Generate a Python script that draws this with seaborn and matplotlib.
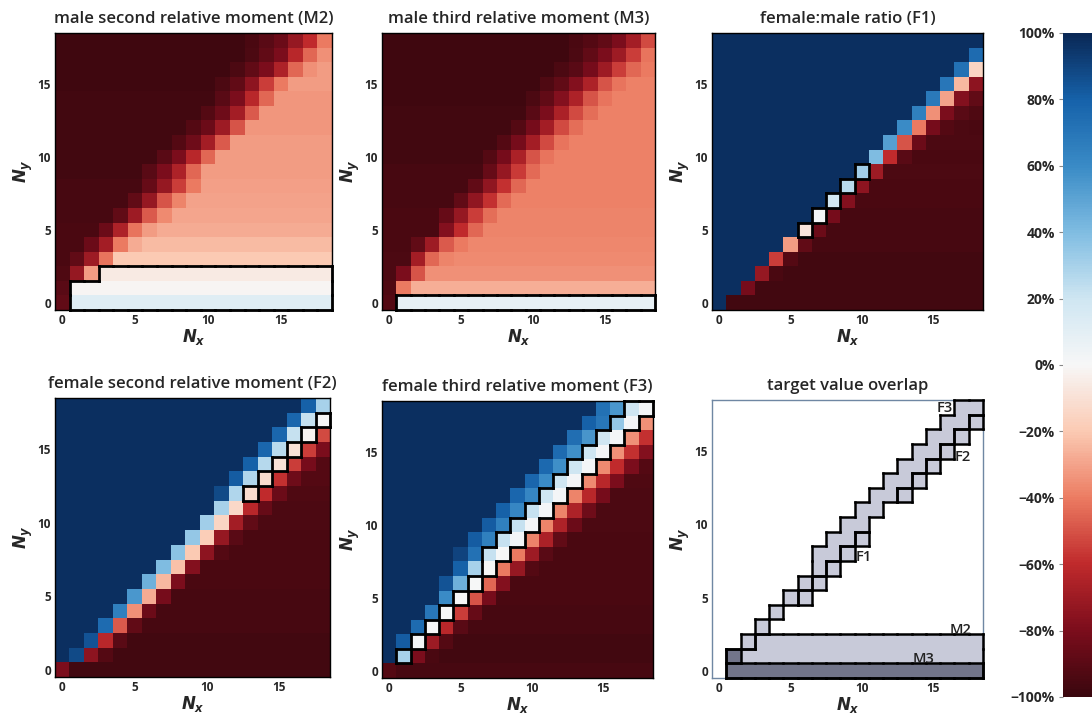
import numpy as np
import matplotlib
matplotlib.use("Agg")
import matplotlib.pyplot as plt
import seaborn as sns
from matplotlib.colors import LinearSegmentedColormap, ListedColormap
from matplotlib.collections import LineCollection

# ---------------- data (percent deviation), rows = Ny 0..18, cols = Nx 0..18 ----------------
TICKS = [0, 5, 10, 15]
TICK_LABELS = ["0", "5", "10", "15"]
CBAR_TICKS = [-100, -80, -60, -40, -20, 0, 20, 40, 60, 80, 100]
CBAR_LABELS = ["\u2212100%", "\u221280%", "\u221260%", "\u221240%", "\u221220%", "0%",
               "20%", "40%", "60%", "80%", "100%"]

M2 = [
    [-88, 12, 12, 12, 12, 12, 12, 12, 12, 12, 12, 12, 12, 12, 12, 12, 12, 12, 12],
    [-90, -1, -1, -1, -1, -1, -1, -1, -1, -1, -1, -1, -1, -1, -1, -1, -1, -1, -1],
    [-93, -72, -32, -6, -6, -6, -6, -6, -6, -6, -6, -6, -6, -6, -6, -6, -6, -6, -6],
    [-95, -88, -70, -42, -20, -20, -20, -20, -20, -20, -20, -20, -20, -20, -20, -20, -20, -20, -20],
    [-95, -95, -85, -68, -40, -28, -24, -24, -24, -24, -24, -24, -24, -24, -24, -24, -24, -24, -24],
    [-95, -95, -95, -85, -65, -42, -32, -28, -28, -28, -28, -28, -28, -28, -28, -28, -28, -28, -28],
    [-96, -96, -96, -96, -88, -70, -48, -36, -29, -29, -29, -29, -29, -29, -29, -29, -29, -29, -29],
    [-96, -96, -96, -96, -96, -88, -72, -50, -38, -30, -30, -30, -30, -30, -30, -30, -30, -30, -30],
    [-96, -96, -96, -96, -96, -96, -86, -72, -55, -40, -31, -31, -31, -31, -31, -31, -31, -31, -31],
    [-97, -97, -97, -97, -97, -97, -90, -80, -65, -45, -32, -32, -32, -32, -32, -32, -32, -32, -32],
    [-97, -97, -97, -97, -97, -97, -97, -90, -80, -62, -45, -32, -32, -32, -32, -32, -32, -32, -32],
    [-97, -97, -97, -97, -97, -97, -97, -97, -92, -84, -68, -48, -32, -32, -32, -32, -32, -32, -32],
    [-97, -97, -97, -97, -97, -97, -97, -97, -97, -92, -85, -70, -50, -33, -33, -33, -33, -33, -33],
    [-97, -97, -97, -97, -97, -97, -97, -97, -97, -97, -92, -84, -68, -48, -33, -33, -33, -33, -33],
    [-97, -97, -97, -97, -97, -97, -97, -97, -97, -97, -97, -90, -80, -62, -45, -33, -33, -33, -33],
    [-98, -98, -98, -98, -98, -98, -98, -98, -98, -98, -98, -94, -88, -75, -55, -40, -32, -32, -32],
    [-98, -98, -98, -98, -98, -98, -98, -98, -98, -98, -98, -98, -94, -88, -80, -65, -45, -35, -32],
    [-98, -98, -98, -98, -98, -98, -98, -98, -98, -98, -98, -98, -98, -94, -88, -80, -62, -45, -35],
    [-98, -98, -98, -98, -98, -98, -98, -98, -98, -98, -98, -98, -98, -95, -90, -85, -72, -60, -40],
]

M3 = [
    [-92, 8, 8, 8, 8, 8, 8, 8, 8, 8, 8, 8, 8, 8, 8, 8, 8, 8, 8],
    [-93, -40, -27, -27, -27, -27, -27, -27, -27, -27, -27, -27, -27, -27, -27, -27, -27, -27, -27],
    [-94, -80, -50, -35, -35, -35, -35, -35, -35, -35, -35, -35, -35, -35, -35, -35, -35, -35, -35],
    [-94, -94, -68, -45, -38, -36, -36, -36, -36, -36, -36, -36, -36, -36, -36, -36, -36, -36, -36],
    [-95, -95, -88, -70, -48, -40, -37, -37, -37, -37, -37, -37, -37, -37, -37, -37, -37, -37, -37],
    [-95, -95, -95, -95, -78, -60, -45, -38, -38, -38, -38, -38, -38, -38, -38, -38, -38, -38, -38],
    [-95, -95, -95, -95, -86, -72, -55, -43, -38, -38, -38, -38, -38, -38, -38, -38, -38, -38, -38],
    [-96, -96, -96, -96, -96, -88, -74, -58, -44, -39, -39, -39, -39, -39, -39, -39, -39, -39, -39],
    [-96, -96, -96, -96, -96, -96, -88, -74, -58, -45, -39, -39, -39, -39, -39, -39, -39, -39, -39],
    [-96, -96, -96, -96, -96, -96, -96, -86, -72, -56, -44, -39, -39, -39, -39, -39, -39, -39, -39],
    [-97, -97, -97, -97, -97, -97, -97, -92, -82, -66, -50, -42, -39, -39, -39, -39, -39, -39, -39],
    [-97, -97, -97, -97, -97, -97, -97, -97, -92, -82, -68, -52, -42, -39, -39, -39, -39, -39, -39],
    [-97, -97, -97, -97, -97, -97, -97, -97, -97, -92, -82, -68, -52, -43, -39, -39, -39, -39, -39],
    [-97, -97, -97, -97, -97, -97, -97, -97, -97, -97, -90, -80, -66, -52, -43, -39, -39, -39, -39],
    [-98, -98, -98, -98, -98, -98, -98, -98, -98, -98, -94, -88, -78, -65, -50, -42, -39, -39, -39],
    [-98, -98, -98, -98, -98, -98, -98, -98, -98, -98, -98, -93, -88, -78, -65, -50, -42, -39, -39],
    [-98, -98, -98, -98, -98, -98, -98, -98, -98, -98, -98, -98, -94, -90, -82, -70, -55, -45, -40],
    [-98, -98, -98, -98, -98, -98, -98, -98, -98, -98, -98, -98, -98, -94, -88, -80, -70, -55, -42],
    [-98, -98, -98, -98, -98, -98, -98, -98, -98, -98, -98, -98, -98, -95, -92, -88, -80, -68, -52],
]

F1 = [
    [97, -97, -97, -97, -97, -97, -97, -97, -97, -97, -97, -97, -97, -97, -97, -97, -97, -97, -97],
    [97, 97, -82, -97, -97, -97, -97, -97, -97, -97, -97, -97, -97, -97, -97, -97, -97, -97, -97],
    [97, 97, 97, -72, -95, -97, -97, -97, -97, -97, -97, -97, -97, -97, -97, -97, -97, -97, -97],
    [97, 97, 97, 97, -55, -92, -97, -97, -97, -97, -97, -97, -97, -97, -97, -97, -97, -97, -97],
    [97, 97, 97, 97, 97, -32, -88, -96, -96, -96, -96, -96, -96, -96, -96, -96, -96, -96, -96],
    [97, 97, 97, 97, 97, 97, -8, -85, -96, -96, -96, -96, -96, -96, -96, -96, -96, -96, -96],
    [97, 97, 97, 97, 97, 97, 97, 2, -82, -96, -96, -96, -96, -96, -96, -96, -96, -96, -96],
    [97, 97, 97, 97, 97, 97, 97, 97, 18, -78, -95, -95, -95, -95, -95, -95, -95, -95, -95],
    [97, 97, 97, 97, 97, 97, 97, 97, 97, 25, -75, -95, -95, -95, -95, -95, -95, -95, -95],
    [97, 97, 97, 97, 97, 97, 97, 97, 97, 97, 32, -70, -94, -94, -94, -94, -94, -94, -94],
    [97, 97, 97, 97, 97, 97, 97, 97, 97, 97, 97, 40, -60, -90, -95, -95, -95, -95, -95],
    [97, 97, 97, 97, 97, 97, 97, 97, 97, 97, 97, 97, 52, -50, -85, -94, -94, -94, -94],
    [97, 97, 97, 97, 97, 97, 97, 97, 97, 97, 97, 97, 97, 60, -40, -82, -92, -94, -95],
    [97, 97, 97, 97, 97, 97, 97, 97, 97, 97, 97, 97, 97, 97, 65, -35, -80, -90, -93],
    [97, 97, 97, 97, 97, 97, 97, 97, 97, 97, 97, 97, 97, 97, 97, 68, -30, -78, -88],
    [97, 97, 97, 97, 97, 97, 97, 97, 97, 97, 97, 97, 97, 97, 97, 97, 70, -25, -75],
    [97, 97, 97, 97, 97, 97, 97, 97, 97, 97, 97, 97, 97, 97, 97, 97, 97, 72, -15],
    [97, 97, 97, 97, 97, 97, 97, 97, 97, 97, 97, 97, 97, 97, 97, 97, 97, 97, 75],
    [97, 97, 97, 97, 97, 97, 97, 97, 97, 97, 97, 97, 97, 97, 97, 97, 97, 97, 97],
]

F2 = [
    [-80, -97, -97, -97, -97, -97, -97, -97, -97, -97, -97, -97, -97, -97, -97, -97, -97, -97, -97],
    [97, 88, -75, -92, -97, -97, -97, -97, -97, -97, -97, -97, -97, -97, -97, -97, -97, -97, -97],
    [97, 97, 85, -62, -90, -97, -97, -97, -97, -97, -97, -97, -97, -97, -97, -97, -97, -97, -97],
    [97, 97, 97, 75, -48, -88, -96, -96, -96, -96, -96, -96, -96, -96, -96, -96, -96, -96, -96],
    [97, 97, 97, 97, 65, -35, -85, -96, -96, -96, -96, -96, -96, -96, -96, -96, -96, -96, -96],
    [97, 97, 97, 97, 97, 55, -28, -82, -96, -96, -96, -96, -96, -96, -96, -96, -96, -96, -96],
    [97, 97, 97, 97, 97, 97, 45, -25, -80, -95, -95, -95, -95, -95, -95, -95, -95, -95, -95],
    [97, 97, 97, 97, 97, 97, 97, 40, -22, -78, -95, -95, -95, -95, -95, -95, -95, -95, -95],
    [97, 97, 97, 97, 97, 97, 97, 97, 37, -20, -75, -92, -95, -95, -95, -95, -95, -95, -95],
    [97, 97, 97, 97, 97, 97, 97, 97, 97, 35, -18, -72, -90, -95, -95, -95, -95, -95, -95],
    [97, 97, 97, 97, 97, 97, 97, 97, 97, 97, 32, -15, -68, -88, -94, -94, -94, -94, -94],
    [97, 97, 97, 97, 97, 97, 97, 97, 97, 97, 97, 30, -14, -62, -86, -94, -94, -94, -94],
    [97, 97, 97, 97, 97, 97, 97, 97, 97, 97, 97, 88, 28, -12, -60, -85, -93, -93, -93],
    [97, 97, 97, 97, 97, 97, 97, 97, 97, 97, 97, 97, 82, 28, -12, -58, -84, -92, -92],
    [97, 97, 97, 97, 97, 97, 97, 97, 97, 97, 97, 97, 97, 80, 26, -10, -55, -82, -92],
    [97, 97, 97, 97, 97, 97, 97, 97, 97, 97, 97, 97, 97, 97, 78, 25, -10, -55, -80],
    [97, 97, 97, 97, 97, 97, 97, 97, 97, 97, 97, 97, 97, 97, 97, 78, 22, -2, -52],
    [97, 97, 97, 97, 97, 97, 97, 97, 97, 97, 97, 97, 97, 97, 97, 97, 78, 22, 0],
    [97, 97, 97, 97, 97, 97, 97, 97, 97, 97, 97, 97, 97, 97, 97, 97, 97, 80, 30],
]

F3 = [
    [-92, -96, -96, -96, -96, -96, -96, -96, -96, -96, -96, -96, -96, -96, -96, -96, -96, -96, -96],
    [97, 30, -80, -95, -97, -97, -97, -97, -97, -97, -97, -97, -97, -97, -97, -97, -97, -97, -97],
    [97, 82, 2, -70, -92, -97, -97, -97, -97, -97, -97, -97, -97, -97, -97, -97, -97, -97, -97],
    [97, 97, 75, 0, -62, -90, -96, -96, -96, -96, -96, -96, -96, -96, -96, -96, -96, -96, -96],
    [97, 97, 97, 70, 0, -55, -86, -96, -96, -96, -96, -96, -96, -96, -96, -96, -96, -96, -96],
    [97, 97, 97, 97, 60, 0, -50, -82, -95, -95, -95, -95, -95, -95, -95, -95, -95, -95, -95],
    [97, 97, 97, 97, 85, 45, 0, -45, -78, -95, -95, -95, -95, -95, -95, -95, -95, -95, -95],
    [97, 97, 97, 97, 97, 80, 30, 0, -40, -72, -92, -95, -95, -95, -95, -95, -95, -95, -95],
    [97, 97, 97, 97, 97, 90, 72, 22, 0, -40, -70, -90, -95, -95, -95, -95, -95, -95, -95],
    [97, 97, 97, 97, 97, 97, 82, 65, 22, 2, -38, -66, -88, -95, -95, -95, -95, -95, -95],
    [97, 97, 97, 97, 97, 97, 97, 82, 65, 22, 2, -38, -65, -85, -94, -94, -94, -94, -94],
    [97, 97, 97, 97, 97, 97, 97, 97, 80, 62, 22, 2, -38, -65, -84, -94, -94, -94, -94],
    [97, 97, 97, 97, 97, 97, 97, 97, 97, 78, 62, 20, 2, -38, -62, -82, -94, -94, -94],
    [97, 97, 97, 97, 97, 97, 97, 97, 97, 97, 78, 60, 20, 2, -36, -62, -80, -93, -93],
    [97, 97, 97, 97, 97, 97, 97, 97, 97, 97, 97, 76, 58, 20, 2, -36, -60, -80, -92],
    [97, 97, 97, 97, 97, 97, 97, 97, 97, 97, 97, 97, 75, 58, 20, 2, -35, -58, -78],
    [97, 97, 97, 97, 97, 97, 97, 97, 97, 97, 97, 97, 97, 74, 56, 20, 2, -35, -58],
    [97, 97, 97, 97, 97, 97, 97, 97, 97, 97, 97, 97, 97, 97, 80, 70, 35, 2, -35],
    [97, 97, 97, 97, 97, 97, 97, 97, 97, 97, 97, 97, 97, 97, 97, 72, 55, 20, 2],
]

# target regions: row (Ny) -> (first Nx, last Nx)
M2_TARGET = {0: (1, 18), 1: (1, 18), 2: (3, 18)}
M3_TARGET = {0: (1, 18)}
F1_TARGET = {5: (6, 6), 6: (7, 7), 7: (8, 8), 8: (9, 9), 9: (10, 10)}
F2_TARGET = {12: (13, 13), 13: (14, 14), 14: (15, 15), 15: (16, 16), 16: (17, 17), 17: (18, 18)}
F3_TARGET = {1: (1, 1), 2: (2, 2), 3: (3, 3), 4: (4, 4), 5: (5, 5), 6: (6, 6), 7: (7, 7),
             8: (7, 8), 9: (8, 9), 10: (9, 10), 11: (10, 11), 12: (11, 12), 13: (12, 13),
             14: (13, 14), 15: (14, 15), 16: (15, 16), 17: (16, 17), 18: (17, 18)}

# ---------------- style ----------------
W, H = 1092, 715
N = 19
sns.set_theme(style="white")
plt.rcParams["font.family"] = ["Open Sans", "DejaVu Sans"]
plt.rcParams["font.weight"] = "semibold"
plt.rcParams["mathtext.fontset"] = "custom"
plt.rcParams["mathtext.it"] = "DejaVu Sans:italic:bold"
plt.rcParams["mathtext.rm"] = "DejaVu Sans:bold"

cmap = LinearSegmentedColormap.from_list("rb", [
    (0.00, "#3a070e"), (0.10, "#7c0d1c"), (0.20, "#c02a2c"), (0.30, "#ec7c62"),
    (0.40, "#fbcab3"), (0.50, "#f7f7f7"), (0.60, "#cfe6f2"), (0.70, "#80bde2"),
    (0.80, "#3a8bc6"), (0.90, "#1662aa"), (1.00, "#0a2856")])

fig = plt.figure(figsize=(W / 100, H / 100), dpi=100)


def rect(l, t, r, b):
    return [l / W, 1 - b / H, (r - l) / W, (b - t) / H]


def to_mask(rows):
    m = np.zeros((N, N), dtype=bool)
    for j, (a, b) in rows.items():
        m[j, a:b + 1] = True
    return m


def outline(ax, m, lw=2.0, color="black"):
    segs = []
    for j in range(N):
        for i in range(N):
            if not m[j, i]:
                continue
            if j == 0 or not m[j - 1, i]:
                segs.append([(i, j), (i + 1, j)])
            if j == N - 1 or not m[j + 1, i]:
                segs.append([(i, j + 1), (i + 1, j + 1)])
            if i == 0 or not m[j, i - 1]:
                segs.append([(i, j), (i, j + 1)])
            if i == N - 1 or not m[j, i + 1]:
                segs.append([(i + 1, j), (i + 1, j + 1)])
    lc = LineCollection(segs, colors=color, linewidths=lw, capstyle="projecting",
                        clip_on=False, zorder=5)
    ax.add_collection(lc)


def style_axes(ax, title, frame="black"):
    ax.invert_yaxis()
    ax.set_xticks([t + 0.5 for t in TICKS])
    ax.set_xticklabels(TICK_LABELS, rotation=0)
    ax.set_yticks([t + 0.5 for t in TICKS])
    ax.set_yticklabels(TICK_LABELS, rotation=0)
    ax.tick_params(axis="both", length=0, pad=3, labelsize=8.5)
    for lbl in ax.get_xticklabels() + ax.get_yticklabels():
        lbl.set_fontweight("bold")
    ax.set_xlabel(r"$N_x$", fontsize=12, labelpad=0)
    ax.set_ylabel(r"$N_y$", fontsize=12, labelpad=2)
    ax.set_title(title, fontsize=12, fontweight="semibold", pad=7)
    for s in ax.spines.values():
        s.set_visible(True)
        s.set_linewidth(1.0)
        s.set_color(frame)


def panel(box, data, title, masks, cbar_ax=None):
    ax = fig.add_axes(rect(*box))
    kw = dict(cbar=False)
    if cbar_ax is not None:
        kw = dict(cbar=True, cbar_ax=cbar_ax)
    sns.heatmap(np.array(data), ax=ax, cmap=cmap, vmin=-100, vmax=100,
                xticklabels=False, yticklabels=False, **kw)
    style_axes(ax, title)
    for m in masks:
        outline(ax, to_mask(m))
    return ax


cax = fig.add_axes(rect(1063, 33, 1112, 697))
panel((55, 33, 332, 310), M2, "male second relative moment (M2)", [M2_TARGET], cbar_ax=cax)
panel((382, 33, 655, 310), M3, "male third relative moment (M3)", [M3_TARGET])
panel((712, 33, 983, 310), F1, "female:male ratio (F1)", [F1_TARGET])
panel((55, 398, 330, 677), F2, "female second relative moment (F2)", [F2_TARGET])
panel((382, 401, 653, 678), F3, "female third relative moment (F3)", [F3_TARGET])

# overlap panel
targets = [M2_TARGET, M3_TARGET, F1_TARGET, F2_TARGET, F3_TARGET]
count = sum(to_mask(t).astype(int) for t in targets)
ax = fig.add_axes(rect(712, 400, 983, 678))
sns.heatmap(count, ax=ax, cmap=ListedColormap(["#ffffff", "#c8cad9", "#72758a"]),
            vmin=-0.5, vmax=2.5, cbar=False, xticklabels=False, yticklabels=False)
style_axes(ax, "target value overlap", frame="#6f87a3")
for t in targets:
    outline(ax, to_mask(t), lw=1.8)
lab = dict(fontsize=10.5, fontweight="semibold", color="#222222", zorder=6)
ax.text(17.4, 3.25, "M2", ha="center", va="center", **lab)
ax.text(14.8, 1.3, "M3", ha="center", va="center", **lab)
ax.text(10.1, 8.3, "F1", ha="left", va="center", **lab)
ax.text(17.0, 15.1, "F2", ha="left", va="center", **lab)
ax.text(16.3, 18.45, "F3", ha="center", va="center", **lab)

# colorbar styling
cax.yaxis.set_ticks_position("left")
cax.set_yticks(CBAR_TICKS)
cax.set_yticklabels(CBAR_LABELS)
cax.tick_params(axis="y", length=3, width=0.8, color="#888888", labelsize=10, pad=3)
for lbl in cax.get_yticklabels():
    lbl.set_fontweight("bold")
cax.yaxis.set_label_position("left")

fig.savefig("out.png", dpi=100)
